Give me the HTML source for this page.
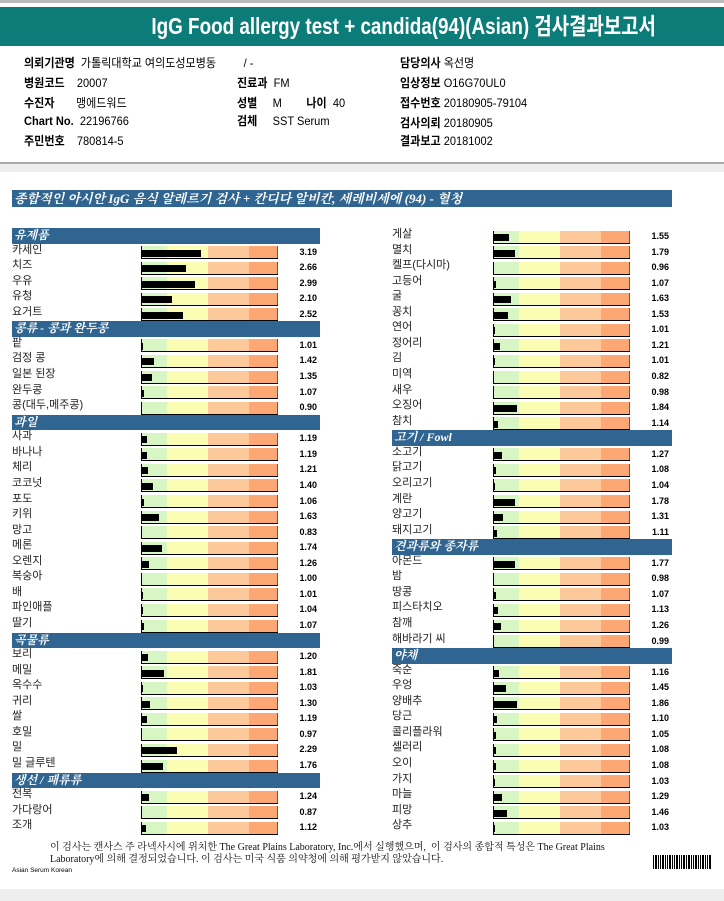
<!DOCTYPE html>
<html><head><meta charset="utf-8">
<style>
body{margin:0;width:724px;height:901px;background:#fff;position:relative;overflow:hidden;font-family:"Liberation Sans","Noto Sans CJK KR",sans-serif}
.abs{position:absolute}
#title{left:0;top:7px;width:724px;height:39px;background:#0b7c78;color:#fff;text-align:center;line-height:39px}
#title span{display:inline-block;font:bold 23px "Liberation Sans","Noto Sans CJK KR",sans-serif;transform:translateX(42px) scaleX(0.82)}
.info{font-size:12px;color:#000;white-space:nowrap;transform-origin:left;transform:scaleX(0.92)}
.info b{font-weight:bold}
.hdr{background:#2f6590;color:#fff;font:italic bold 12px "Liberation Serif","Noto Serif CJK SC",serif;padding-left:2px;box-sizing:border-box}
.lbl{font-size:11px;color:#222;white-space:nowrap}
.val{font:bold 9px "Liberation Sans",sans-serif;text-align:right;width:40px}
.bar{display:flex;border-left:1px solid #000;border-bottom:1.5px solid #000;box-sizing:border-box}
.bar div{height:100%}
</style></head><body>
<div class="abs" style="left:0;top:0;width:724px;height:3px;background:#bbb"></div>
<div id="title" class="abs"><span>IgG Food allergy test + candida(94)(Asian) 검사결과보고서</span></div>
<div class="abs" style="left:0;top:162px;width:724px;height:2px;background:#aaa"></div>
<div class="abs" style="left:0;top:164px;width:724px;height:8px;background:#eee"></div>
<div class="abs" style="left:0;top:889px;width:724px;height:12px;background:#eee"></div>

<div>
<div class="abs info" style="left:24px;top:54px"><b>의뢰기관명</b>&nbsp; 가톨릭대학교 여의도성모병동 &nbsp;&nbsp;&nbsp;&nbsp;&nbsp;&nbsp;&nbsp; / -</div>
<div class="abs info" style="left:400px;top:54px"><b>담당의사</b> 옥선명</div>
<div class="abs info" style="left:24px;top:74px"><b>병원코드</b>&nbsp;&nbsp;&nbsp; 20007</div>
<div class="abs info" style="left:237px;top:74px"><b>진료과</b>&nbsp; FM</div>
<div class="abs info" style="left:400px;top:74px"><b>임상정보</b> O16G70UL0</div>
<div class="abs info" style="left:24px;top:94px"><b>수진자</b>&nbsp;&nbsp;&nbsp;&nbsp;&nbsp;&nbsp; 맹에드워드</div>
<div class="abs info" style="left:237px;top:94px"><b>성별</b>&nbsp;&nbsp;&nbsp;&nbsp; M &nbsp;&nbsp;&nbsp;&nbsp;&nbsp;&nbsp; <b>나이</b>&nbsp; 40</div>
<div class="abs info" style="left:400px;top:94px"><b>접수번호</b> 20180905-79104</div>
<div class="abs info" style="left:24px;top:114px"><b>Chart No.</b>&nbsp; 22196766</div>
<div class="abs info" style="left:237px;top:112px"><b>검체</b>&nbsp;&nbsp;&nbsp;&nbsp; SST Serum</div>
<div class="abs info" style="left:400px;top:114px"><b>검사의뢰</b> 20180905</div>
<div class="abs info" style="left:24px;top:132px"><b>주민번호</b>&nbsp;&nbsp;&nbsp; 780814-5</div>
<div class="abs info" style="left:400px;top:132px"><b>결과보고</b> 20181002</div>
</div>

<div class="abs hdr" style="left:12px;top:190px;width:660px;height:17px;font-size:13px;line-height:17px">종합적인 아시안 IgG 음식 알레르기 검사 + 칸디다 알비칸, 세레비세에 (94) - 혈청</div>

<div id="chart"></div>

<div class="abs" style="left:50px;top:842px;width:572px;font:10px 'Liberation Serif','Noto Serif CJK SC',serif;line-height:12px;color:#111">이 검사는 캔사스 주 라넥사시에 위치한 The Great Plains Laboratory, Inc.에서 실행했으며, &nbsp;이 검사의 종합적 특성은 The Great Plains Laboratory에 의해 결정되었습니다. 이 검사는 미국 식품 의약청에 의해 평가받지 않았습니다.</div>
<div class="abs" style="left:12px;top:867px;font:6.5px 'Liberation Sans',sans-serif">Asian Serum Korean</div>
<svg class="abs" style="left:653px;top:855px" width="58" height="14">
<g fill="#000"><rect x="0" width="1" height="14"/><rect x="2" width="2" height="14"/><rect x="5" width="1" height="14"/><rect x="7" width="1" height="14"/><rect x="9" width="2" height="14"/><rect x="12" width="1" height="14"/><rect x="14" width="1" height="14"/><rect x="16" width="2" height="14"/><rect x="19" width="1" height="14"/><rect x="21" width="1" height="14"/><rect x="23" width="2" height="14"/><rect x="26" width="1" height="14"/><rect x="28" width="1" height="14"/><rect x="30" width="2" height="14"/><rect x="33" width="1" height="14"/><rect x="35" width="2" height="14"/><rect x="38" width="1" height="14"/><rect x="40" width="1" height="14"/><rect x="42" width="2" height="14"/><rect x="45" width="1" height="14"/><rect x="47" width="1" height="14"/><rect x="49" width="2" height="14"/><rect x="52" width="1" height="14"/><rect x="54" width="1" height="14"/><rect x="56" width="2" height="14"/></g></svg>

<script>
const leftRows = ["H:유제품","카세인","치즈","우유","유청","요거트","H:콩류 - 콩과 완두콩","팥","검정 콩","일본 된장","완두콩","콩(대두,메주콩)","H:과일","사과","바나나","체리","코코넛","포도","키위","망고","메론","오렌지","복숭아","배","파인애플","딸기","H:곡물류","보리","메밀","옥수수","귀리","쌀","호밀","밀","밀 글루텐","H:생선 / 패류류","전복","가다랑어","조개"];
const leftValues = [null,3.19,2.66,2.99,2.10,2.52,null,1.01,1.42,1.35,1.07,0.90,null,1.19,1.19,1.21,1.40,1.06,1.63,0.83,1.74,1.26,1.00,1.01,1.04,1.07,null,1.20,1.81,1.03,1.30,1.19,0.97,2.29,1.76,null,1.24,0.87,1.12];
const rightRows = ["게살","멸치","켈프(다시마)","고등어","굴","꽁치","연어","정어리","김","미역","새우","오징어","참치","H:고기 / Fowl","소고기","닭고기","오리고기","계란","양고기","돼지고기","H:견과류와 종자류","아몬드","밤","땅콩","피스타치오","참깨","해바라기 씨","H:야채","죽순","우엉","양배추","당근","콜리플라워","셀러리","오이","가지","마늘","피망","상추"];
const rightValues = [1.55,1.79,0.96,1.07,1.63,1.53,1.01,1.21,1.01,0.82,0.98,1.84,1.14,null,1.27,1.08,1.04,1.78,1.31,1.11,null,1.77,0.98,1.07,1.13,1.26,0.99,null,1.16,1.45,1.86,1.10,1.05,1.08,1.08,1.03,1.29,1.46,1.03];
const scaleMin = 0.95, scaleMax = 6.1;

const TOP=228, ROW=15.56;
function xw(v){ if(v<1) return 0; return Math.max(1,(v-scaleMin)/(scaleMax-scaleMin)*137); }
const chart=document.getElementById('chart');
function col(rows,vals,x0,barX,hdrW){
  rows.forEach((r,i)=>{
    const y=TOP+i*ROW;
    if(r.startsWith('H:')){
      const h=document.createElement('div');
      h.className='abs hdr';
      
      
      h.style.cssText=`left:${x0}px;top:${y}px;width:${hdrW}px;height:${ROW}px;line-height:${ROW}px`;
      h.textContent=r.slice(2);
      chart.appendChild(h);
      return;
    }
    const l=document.createElement('div');
    l.className='abs lbl';
    
    
    l.style.cssText=`left:${x0}px;top:${y-1}px;line-height:${ROW}px`;
    l.textContent=r;
    chart.appendChild(l);
    const b=document.createElement('div');
    b.className='abs bar';
    
    
    b.style.cssText=`left:${barX}px;top:${y+2.5}px;width:137px;height:13px`;
    b.innerHTML='<div style="width:25px;background:#d8f6c4"></div><div style="width:41px;background:#fbfdb2"></div><div style="width:41px;background:#fdc99b"></div><div style="width:28px;background:#fda874"></div><div style="width:1px;background:#a8345a"></div>';
    chart.appendChild(b);
    const w=xw(vals[i]);
    if(w>0){
      const m=document.createElement('div');
      m.className='abs';
      
      
      m.style.cssText=`left:${barX}px;top:${y+6}px;width:${w}px;height:7px;background:#000`;
      chart.appendChild(m);
    }
    const v=document.createElement('div');
    v.className='abs val';
    
    
    v.style.cssText=`left:${x0+hdrW-43}px;top:${y}px;line-height:${ROW+2}px`;
    v.textContent=vals[i].toFixed(2);
    chart.appendChild(v);
  });
}
col(leftRows,leftValues,12,141,308);
col(rightRows,rightValues,392,493,280);
</script>
</body></html>
